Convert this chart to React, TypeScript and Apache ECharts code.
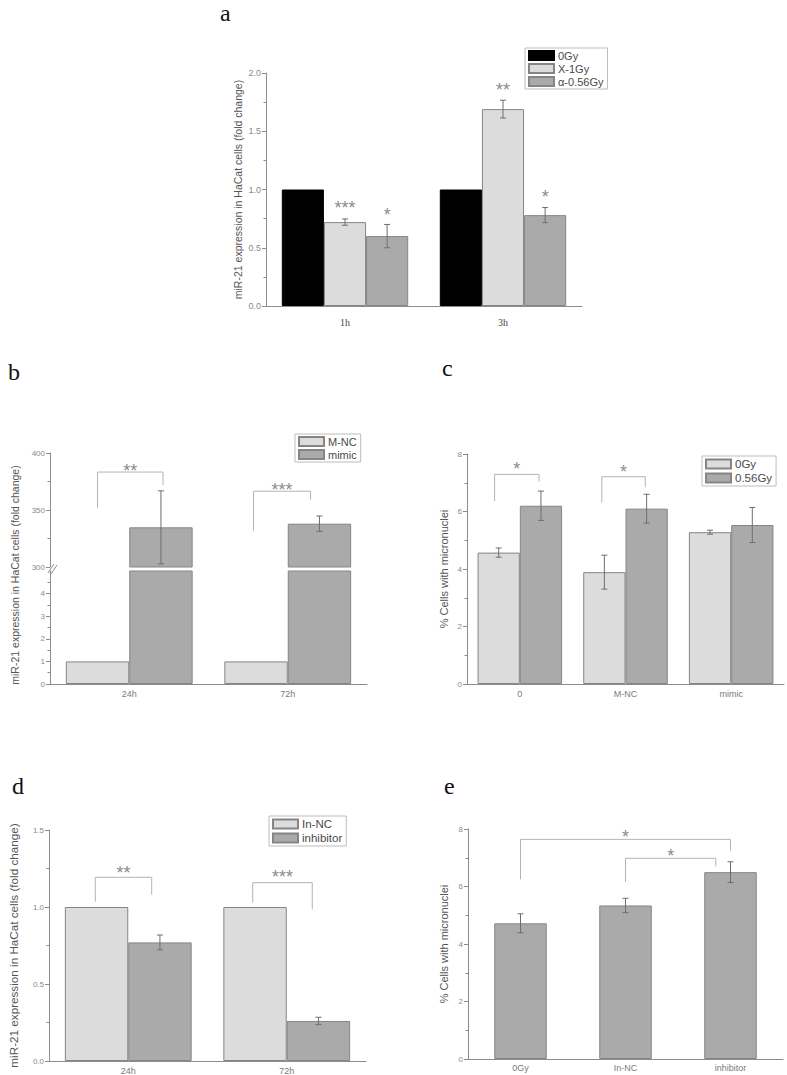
import React, { useEffect, useRef } from 'react';
import * as echarts from 'echarts';

// ---------- Panel a ----------
const aCategories = ['1h', '3h'];
const a0Gy = [1.0, 1.0];
const aX1Gy = [0.72, 1.69];
const aX1GyErr = [0.027, 0.076];
const aAlpha = [0.6, 0.78];
const aAlphaErr = [0.1, 0.065];
// significance marks: [category, series index, y value]
const aStars = [
  [0, 1, 0.884],
  [0, 2, 0.82],
  [1, 1, 1.89],
  [1, 2, 0.97],
];
const aStarLabels = ['***', '*', '**', '*'];

// ---------- Panel b ----------
const bCategories = ['24h', '72h'];
const bMNC = [1, 1];
const bMimic = [334.8, 338.0];
const bMimicErr = [32, 6.7];
// brackets: [category, left offset, right offset, left end, right end, top, star]
const bBrackets = [
  [0, -0.2, 0.213, 351.8, 371.8, 383.3, 388.2],
  [1, -0.216, 0.144, 331.8, 359.1, 366.5, 371.5],
];
const bLabels = ['**', '***'];

// ---------- Panel c ----------
const cCategories = ['0', 'M-NC', 'mimic'];
const c0Gy = [4.57, 3.89, 5.28];
const c0GyErr = [0.16, 0.59, 0.07];
const c056Gy = [6.2, 6.1, 5.53];
const c056GyErr = [0.51, 0.5, 0.61];
const cBrackets = [
  [0, -0.239, 0.182, 6.36, 7.04, 7.29, 7.62],
  [1, -0.224, 0.187, 6.31, 6.84, 7.21, 7.52],
];
const cLabels = ['*', '*'];

// ---------- Panel d ----------
const dCategories = ['24h', '72h'];
const dInNC = [1, 1];
const dInhibitor = [0.77, 0.26];
const dInhibitorErr = [0.048, 0.024];
const dBrackets = [
  [0, -0.208, 0.148, 1.034, 1.08, 1.193, 1.251],
  [1, -0.215, 0.161, 1.028, 0.985, 1.158, 1.223],
];
const dLabels = ['**', '***'];

// ---------- Panel e ----------
const eCategories = ['0Gy', 'In-NC', 'inhibitor'];
const eValues = [4.72, 5.34, 6.5];
const eErr = [0.33, 0.25, 0.36];
const eBrackets = [
  [0, 0, 2, 6.25, 7.25, 7.64, 7.87],
  [1, 0, 0.86, 6.15, 6.69, 6.98, 7.21],
];
const eLabels = ['*', '*'];

// ---------- styles ----------
const SANS = 'Arial, "Liberation Sans", sans-serif';
const SERIF = '"Liberation Serif", "Times New Roman", serif';
const AXIS = '#8c8c8c';
const LIGHT = '#dcdcdc';
const DARK = '#aaaaaa';
const EDGE = '#858585';
const ERR = '#6e6e6e';
const BRACKET = '#b4b4b4';
const STAR = '#8c8c8c';

function xCat(gridIndex: number, data: string[], label: any = {}, show = true) {
  return {
    type: 'category',
    gridIndex,
    data,
    show,
    axisLine: { show: true, lineStyle: { color: AXIS, width: 1 } },
    axisTick: { show: false },
    axisLabel: { color: '#7a7a7a', fontSize: 9, fontFamily: SANS, margin: 5, ...label },
    splitLine: { show: false },
  };
}

function yVal(gridIndex: number, min: number, max: number, interval: number, extra: any = {}) {
  const { axisLabel, ...rest } = extra;
  return {
    type: 'value',
    gridIndex,
    min,
    max,
    interval,
    axisLine: { show: true, lineStyle: { color: AXIS, width: 1 } },
    axisTick: { show: true, inside: false, length: 4, lineStyle: { color: AXIS } },
    minorTick: { show: true, splitNumber: 2, length: 2.5, lineStyle: { color: AXIS } },
    splitLine: { show: false },
    minorSplitLine: { show: false },
    axisLabel: { color: '#8a8a8a', fontSize: 8, fontFamily: SANS, margin: 5, ...(axisLabel || {}) },
    ...rest,
  };
}

function bar(name: string, axis: number, data: number[], color: string, edge: string, gap = '20%') {
  return {
    type: 'bar',
    name,
    xAxisIndex: axis,
    yAxisIndex: axis,
    data,
    barGap: '0%',
    barCategoryGap: gap,
    clip: true,
    itemStyle: { color, borderColor: edge, borderWidth: 1 },
    emphasis: { disabled: true },
  };
}

function errorBars(axis: number, values: number[], errs: number[], s: number, n: number, fill = 0.8) {
  const data = values.map((v, i) => [i, v, errs[i]]);
  const offset = -fill / 2 + ((s + 0.5) * fill) / n;
  return {
    type: 'custom',
    xAxisIndex: axis,
    yAxisIndex: axis,
    data,
    z: 5,
    silent: true,
    clip: false,
    encode: { x: 0, y: 1 },
    renderItem: (params: any, api: any) => {
      const cat = api.value(0);
      const v = api.value(1);
      const e = api.value(2);
      const band = api.size([1, 0])[0];
      const x = api.coord([cat, v])[0] + offset * band;
      const yt = api.coord([cat, v + e])[1];
      const yb = api.coord([cat, v - e])[1];
      const c = 3;
      const st = { stroke: ERR, lineWidth: 1 };
      return {
        type: 'group',
        children: [
          { type: 'line', shape: { x1: x, y1: yt, x2: x, y2: yb }, style: st },
          { type: 'line', shape: { x1: x - c, y1: yt, x2: x + c, y2: yt }, style: st },
          { type: 'line', shape: { x1: x - c, y1: yb, x2: x + c, y2: yb }, style: st },
        ],
      };
    },
  };
}

function starText(x: number, y: number, text: string) {
  return {
    type: 'text',
    x,
    y: y + 4.5,
    style: {
      text,
      fill: STAR,
      fontSize: 18,
      fontFamily: SANS,
      align: 'center',
      verticalAlign: 'middle',
    },
  };
}

function starMarks(axis: number, marks: number[][], labels: string[], n: number) {
  return {
    type: 'custom',
    xAxisIndex: axis,
    yAxisIndex: axis,
    data: marks,
    z: 6,
    silent: true,
    clip: false,
    encode: { x: 0, y: 2 },
    renderItem: (params: any, api: any) => {
      const cat = api.value(0);
      const s = api.value(1);
      const y = api.value(2);
      const band = api.size([1, 0])[0];
      const p = api.coord([cat, y]);
      const x = p[0] + (-0.4 + ((s + 0.5) * 0.8) / n) * band;
      return starText(x, p[1], labels[params.dataIndex]);
    },
  };
}

function brackets(axis: number, marks: number[][], labels: string[]) {
  return {
    type: 'custom',
    xAxisIndex: axis,
    yAxisIndex: axis,
    data: marks,
    z: 6,
    silent: true,
    clip: false,
    encode: { x: 0, y: 5 },
    renderItem: (params: any, api: any) => {
      const cat = api.value(0);
      const band = api.size([1, 0])[0];
      const base = api.coord([cat, api.value(5)]);
      const xl = base[0] + api.value(1) * band;
      const xr = base[0] + api.value(2) * band;
      const yl = api.coord([cat, api.value(3)])[1];
      const yr = api.coord([cat, api.value(4)])[1];
      const yt = base[1];
      const ys = api.coord([cat, api.value(6)])[1];
      return {
        type: 'group',
        children: [
          {
            type: 'polyline',
            shape: { points: [[xl, yl], [xl, yt], [xr, yt], [xr, yr]] },
            style: { stroke: BRACKET, lineWidth: 1, fill: null },
          },
          starText((xl + xr) / 2, ys, labels[params.dataIndex]),
        ],
      };
    },
  };
}

function legend(names: string[], left: number, top: number, fontSize = 11) {
  return {
    data: names,
    left,
    top,
    orient: 'vertical',
    icon: 'rect',
    itemWidth: 25,
    itemHeight: 9,
    itemGap: 2,
    padding: [2, 4, 2, 3],
    borderColor: '#bdbdbd',
    borderWidth: 1,
    selectedMode: false,
    formatter: (n: string) => n.split('|')[1],
    textStyle: { fontSize, color: '#4a4a4a', fontFamily: SANS, padding: [0, 0, 0, -1] },
  };
}

function panelLetter(text: string, x: number, y: number) {
  return {
    type: 'text',
    x,
    y,
    style: {
      text,
      fontSize: 24,
      fontFamily: SERIF,
      fill: '#111',
      align: 'left',
      verticalAlign: 'middle',
    },
  };
}

const YTITLE = 'miR-21 expression in HaCat cells (fold change)';

function buildOption() {
  const one = (v: number) => v.toFixed(1);
  return {
    animation: false,
    backgroundColor: '#ffffff',
    grid: [
      { left: 266, top: 73, width: 316, height: 233 },
      { left: 50, top: 453, width: 317, height: 114 },
      { left: 50, top: 571, width: 317, height: 113 },
      { left: 467, top: 454, width: 317, height: 230 },
      { left: 49, top: 830, width: 317, height: 231 },
      { left: 468, top: 829, width: 315, height: 230 },
    ],
    xAxis: [
      xCat(0, aCategories, { fontFamily: SERIF, fontSize: 10, color: '#444', margin: 11 }),
      xCat(1, bCategories, {}, false),
      xCat(2, bCategories),
      xCat(3, cCategories),
      xCat(4, dCategories),
      xCat(5, eCategories, { margin: 4 }),
    ],
    yAxis: [
      yVal(0, 0, 2, 0.5, {
        axisLabel: { formatter: one, fontSize: 9 },
        name: YTITLE,
        nameLocation: 'middle',
        nameGap: 23,
        nameTextStyle: { fontSize: 10.5, color: '#555', fontFamily: SANS },
      }),
      yVal(1, 300, 400, 50),
      yVal(2, 0, 5, 1, {
        axisLabel: { customValues: [0, 1, 2, 3, 4], formatter: (v: number) => (v >= 5 ? '' : String(v)) },
        axisTick: { show: true, length: 4, lineStyle: { color: AXIS }, customValues: [0, 1, 2, 3, 4] },
      }),
      yVal(3, 0, 8, 2, {
        name: '% Cells with micronuclei',
        nameLocation: 'middle',
        nameGap: 18,
        nameTextStyle: { fontSize: 11, color: '#555', fontFamily: SANS },
      }),
      yVal(4, 0, 1.5, 0.5, {
        axisLabel: { formatter: one },
        name: YTITLE,
        nameLocation: 'middle',
        nameGap: 30,
        nameTextStyle: { fontSize: 11.7, color: '#555', fontFamily: SANS },
      }),
      yVal(5, 0, 8, 2, {
        name: '% Cells with micronuclei',
        nameLocation: 'middle',
        nameGap: 19,
        nameTextStyle: { fontSize: 11, color: '#555', fontFamily: SANS },
      }),
    ],
    legend: [
      legend(['a|0Gy', 'a|X-1Gy', 'a|α-0.56Gy'], 525, 48, 11),
      legend(['b|M-NC', 'b|mimic'], 295, 434, 11),
      legend(['c|0Gy', 'c|0.56Gy'], 702, 456, 11.5),
      legend(['d|In-NC', 'd|inhibitor'], 269, 816, 11.5),
    ],
    series: [
      // a
      bar('a|0Gy', 0, a0Gy, '#000000', '#000000'),
      bar('a|X-1Gy', 0, aX1Gy, LIGHT, EDGE),
      bar('a|α-0.56Gy', 0, aAlpha, DARK, EDGE),
      errorBars(0, aX1Gy, aX1GyErr, 1, 3),
      errorBars(0, aAlpha, aAlphaErr, 2, 3),
      starMarks(0, aStars, aStarLabels, 3),
      // b (upper + lower segment of the broken axis)
      bar('b|M-NC', 1, bMNC, LIGHT, EDGE),
      bar('b|mimic', 1, bMimic, DARK, EDGE),
      bar('b|M-NC', 2, bMNC, LIGHT, EDGE),
      bar('b|mimic', 2, bMimic, DARK, EDGE),
      errorBars(1, bMimic, bMimicErr, 1, 2),
      brackets(1, bBrackets, bLabels),
      // c
      bar('c|0Gy', 3, c0Gy, LIGHT, EDGE),
      bar('c|0.56Gy', 3, c056Gy, DARK, EDGE),
      errorBars(3, c0Gy, c0GyErr, 0, 2),
      errorBars(3, c056Gy, c056GyErr, 1, 2),
      brackets(3, cBrackets, cLabels),
      // d
      bar('d|In-NC', 4, dInNC, LIGHT, EDGE),
      bar('d|inhibitor', 4, dInhibitor, DARK, EDGE),
      errorBars(4, dInhibitor, dInhibitorErr, 1, 2),
      brackets(4, dBrackets, dLabels),
      // e
      bar('e|micronuclei', 5, eValues, DARK, EDGE, '50%'),
      errorBars(5, eValues, eErr, 0, 1, 0.5),
      brackets(5, eBrackets, eLabels),
    ],
    graphic: [
      panelLetter('a', 220, 13),
      panelLetter('b', 8, 372),
      panelLetter('c', 442, 368),
      panelLetter('d', 12, 786),
      panelLetter('e', 444, 786),
      {
        type: 'text',
        x: 15,
        y: 575,
        rotation: Math.PI / 2,
        style: {
          text: YTITLE,
          fontSize: 10.5,
          fontFamily: SANS,
          fill: '#555',
          align: 'center',
          verticalAlign: 'middle',
        },
      },
      // axis break marks
      { type: 'line', shape: { x1: 48, y1: 573, x2: 54, y2: 564 }, style: { stroke: AXIS, lineWidth: 1 } },
      { type: 'line', shape: { x1: 51, y1: 574, x2: 57, y2: 565 }, style: { stroke: AXIS, lineWidth: 1 } },
    ],
  };
}

export default function App() {
  const ref = useRef<HTMLDivElement>(null);
  useEffect(() => {
    document.body.style.margin = '0';
    const chart = echarts.init(ref.current as HTMLDivElement, null, { renderer: 'svg' });
    chart.setOption(buildOption() as any);
    return () => chart.dispose();
  }, []);
  return <div ref={ref} style={{ width: 787, height: 1075 }} />;
}
